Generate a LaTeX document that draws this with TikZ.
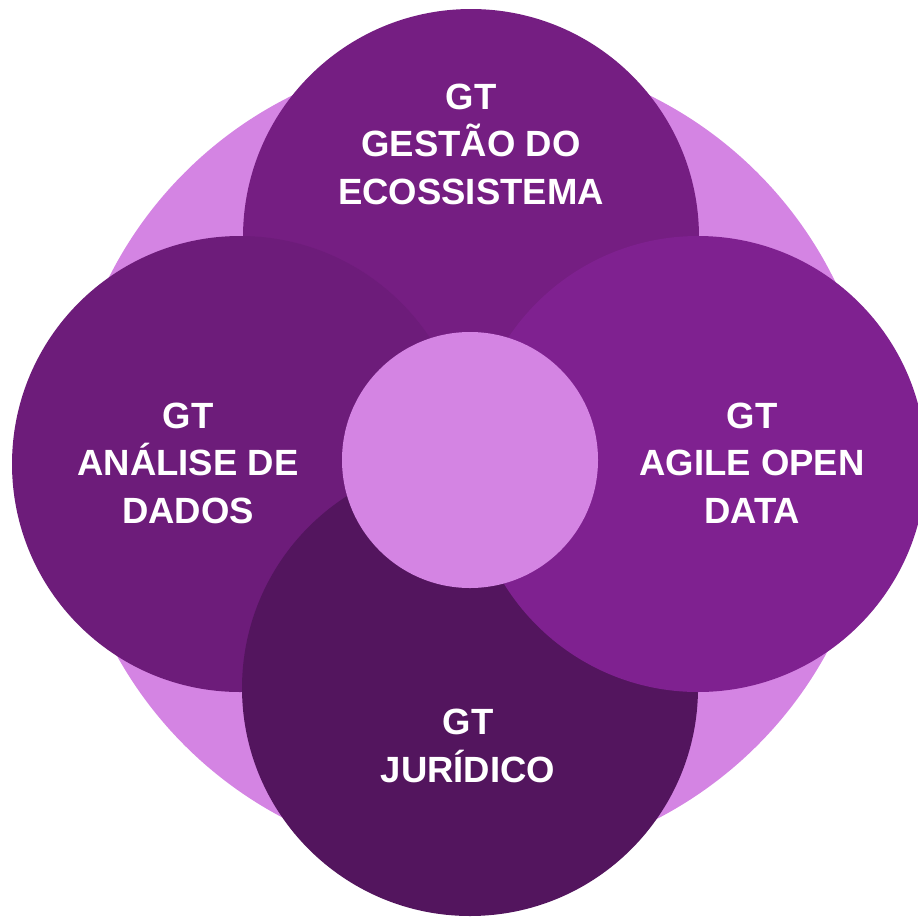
\documentclass[tikz,border=0pt]{standalone}
\usepackage{fontspec}
\setmainfont{Liberation Sans}
\usepackage{tikz}
\usetikzlibrary{positioning}
\definecolor{lilac}{HTML}{D484E3}
\definecolor{gtTop}{HTML}{751E82}
\definecolor{gtLeft}{HTML}{6D1C7A}
\definecolor{gtRight}{HTML}{7F2190}
\definecolor{gtBottom}{HTML}{53155E}
\tikzset{
	x=1pt, y=-1pt,
	group/.style={circle, inner sep=0pt, minimum size=456pt}, % the four GT circles
	hub/.style={circle, inner sep=0pt, minimum size=256pt, fill=lilac},
	gtname/.style={text=white, align=center, anchor=base,
		font=\bfseries\fontsize{36.5}{47.5}\selectfont},
}
\begin{document}
\begin{tikzpicture}
        \useasboundingbox (0,0) rectangle (918,916);
        \node[circle, inner sep=0pt, minimum size=810pt, fill=lilac] (back) at (471,459) {};
        
        \node[group, fill=gtTop] (gestao) at (471,237) {};
        \node[group, fill=gtLeft] (analise) at (240,464) {};
        \node[group, fill=gtBottom] (juridico) at (470,688) {};
        \node[group, fill=gtRight] (agile) at (698,464) {};
        \node[hub] (centro) at (470,460) {};
        
        % anchor=base sits on the last line
        \node[gtname] (tGestao) at (471,204) {GT\\GESTÃO DO\\ECOSSISTEMA};
        \node[gtname] (tAnalise) at (188,523) {GT\\ANÁLISE DE\\DADOS};
        \node[gtname] (tAgile) at (752,523) {GT\\AGILE OPEN\\DATA};
        \node[gtname] (tJuridico) at (468,782) {GT\\JURÍDICO};
    \end{tikzpicture}
\end{document}
